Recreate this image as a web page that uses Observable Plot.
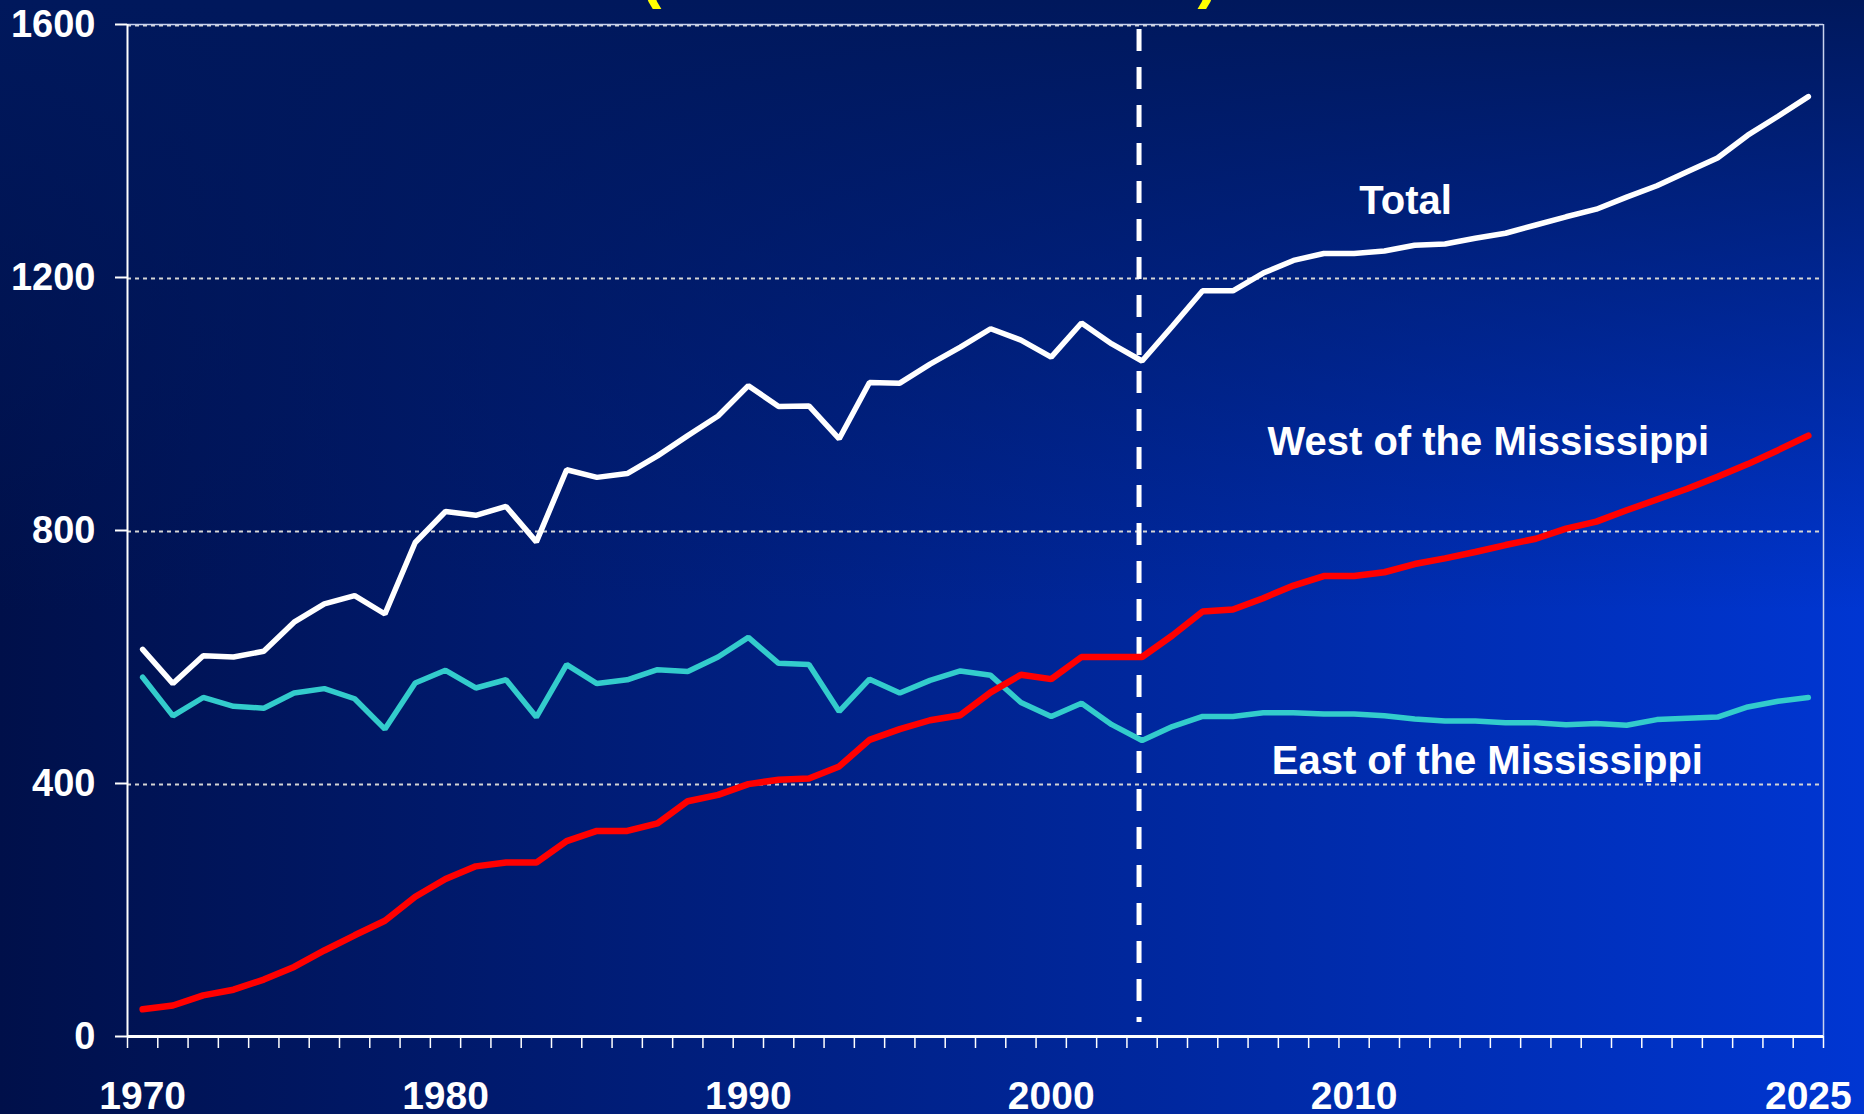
<!DOCTYPE html>
<html><head><meta charset="utf-8">
<script src="https://cdn.jsdelivr.net/npm/d3@7"></script>
<script src="https://cdn.jsdelivr.net/npm/@observablehq/plot@0.6"></script>
<style>
html,body{margin:0;padding:0;width:1864px;height:1114px;overflow:hidden;}
body{background:
  linear-gradient(to bottom, rgba(0,24,92,1) 0%, rgba(0,24,92,0) 55%),
  linear-gradient(to right, #00104a 0%, #0036d2 100%);}
#chart svg{display:block;}
</style></head><body><div id="chart"></div><script>
const years = [1970,1971,1972,1973,1974,1975,1976,1977,1978,1979,
  1980,1981,1982,1983,1984,1985,1986,1987,1988,1989,
  1990,1991,1992,1993,1994,1995,1996,1997,1998,1999,
  2000,2001,2002,2003,2004,2005,2006,2007,2008,2009,
  2010,2011,2012,2013,2014,2015,2016,2017,2018,2019,
  2020,2021,2022,2023,2024,2025];
const total = [612,558,602,600,609,655,684,697,668,781,
  830,824,838,782,896,884,890,918,950,981,
  1029,996,997,945,1034,1033,1063,1090,1119,1101,
  1074,1128,1095,1068,1123,1179,1179,1207,1227,1238,
  1238,1242,1251,1253,1262,1270,1283,1296,1308,1327,
  1345,1367,1389,1425,1455,1486];
const west = [43,49,65,74,90,110,136,160,183,221,
  249,269,275,275,309,325,325,337,372,382,
  399,406,408,427,469,486,500,508,544,572,
  565,600,600,600,634,672,675,693,713,728,
  728,734,747,756,766,777,787,803,814,832,
  849,866,885,905,927,950];
const east = [568,507,536,522,519,543,550,534,486,559,
  579,551,564,505,588,558,564,580,577,600,
  631,590,588,514,565,543,563,578,571,528,
  506,527,493,468,490,506,506,512,512,510,
  510,507,502,499,499,496,496,493,495,492,
  501,503,505,521,530,536];
const yTicks = [0,400,800,1200,1600];
const gridValues = [400,800,1200,1600];
const xTickLabels = [1970,1980,1990,2000,2010,2025];
const yearBounds = [...years.map(y => y - 0.5), 2025.5];
const forecastStart = 2002.9;
const seriesLabels = [
  {text:"Total", x:2011.7, y:1320},
  {text:"West of the Mississippi", x:2014.43, y:940},
  {text:"East of the Mississippi", x:2014.4, y:436}
];
const subtitle = "(Million Short Tons)";

const data = years.map((y,i)=>({year:y, total:total[i], west:west[i], east:east[i]}));
const font = "'Liberation Sans', Arial, Helvetica, sans-serif";

const chart = Plot.plot({
  width:1864, height:1114,
  marginLeft:127, marginRight:41, marginTop:24, marginBottom:78,
  style:{background:"transparent", fontFamily:font, overflow:"visible"},
  x:{domain:[1969.5,2025.5], axis:null},
  y:{domain:[0,1600], axis:null},
  marks:[
    Plot.text([subtitle], {frameAnchor:"top", text:d=>d, lineAnchor:"bottom", dx:-46, dy:-29, fill:"#ffff00", fontSize:62, fontWeight:"bold", fontFamily:font}),
    Plot.ruleY(gridValues, {stroke:"#d4d4d4", strokeWidth:2, strokeDasharray:"4,4", dy:1}),
    Plot.ruleY([1600], {stroke:"#c8d2ee", strokeWidth:1.5}),
    Plot.ruleX([2025.5], {stroke:"#c8d2ee", strokeWidth:1.5}),
    Plot.ruleX([forecastStart], {y1:1592, y2:22, stroke:"white", strokeWidth:5, strokeDasharray:"22,16"}),
    Plot.line(data, {x:"year", y:"east", stroke:"#33cccc", strokeWidth:5.5, strokeLinejoin:"miter"}),
    Plot.line(data, {x:"year", y:"west", stroke:"#ff0000", strokeWidth:6.5, strokeLinejoin:"miter"}),
    Plot.line(data, {x:"year", y:"total", stroke:"#ffffff", strokeWidth:5.5, strokeLinejoin:"miter"}),
    Plot.ruleX([1969.5], {stroke:"white", strokeWidth:2}),
    Plot.ruleY([0], {stroke:"white", strokeWidth:3}),
    Plot.axisX(yearBounds, {anchor:"bottom", tickSize:12, tickFormat:()=>"", color:"white", strokeWidth:1.5, label:null}),
    Plot.axisY(yTicks, {anchor:"left", tickSize:12, tickPadding:20, tickFormat:d=>String(d), color:"white", strokeWidth:2, fontSize:38, fontWeight:"bold", fontFamily:font, label:null}),
    Plot.text(xTickLabels, {x:d=>d, y:0, dy:60, text:d=>String(d), fill:"white", fontSize:39, fontWeight:"bold", fontFamily:font}),
    Plot.text(seriesLabels, {x:"x", y:"y", text:"text", fill:"white", fontSize:40, fontWeight:"bold", fontFamily:font})
  ]
});
document.getElementById("chart").appendChild(chart);
</script></body></html>
